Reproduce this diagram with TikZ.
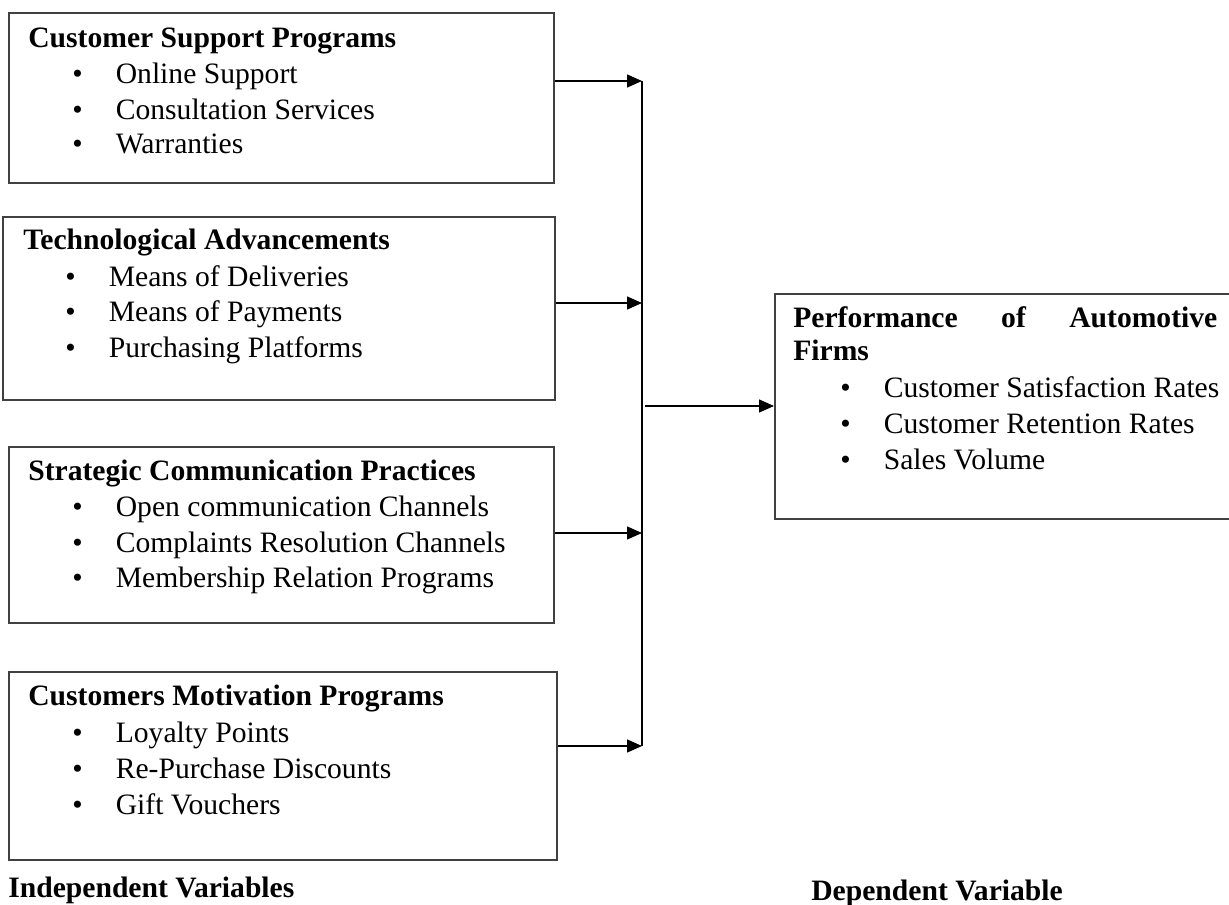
\documentclass[tikz,border=0pt]{standalone}
\usepackage{fontspec}
\setmainfont{Liberation Serif}
\usetikzlibrary{calc,arrows.meta}

\tikzset{
  varbox/.style={draw=black!75, line width=0.9pt, anchor=north west, inner sep=0pt},
  vartitle/.style={anchor=base west, inner sep=0pt, font={\fontsize{16.85}{20}\selectfont\bfseries}},
  varitem/.style={anchor=base west, inner sep=0pt},
  link/.style={line width=0.8pt, -{Triangle[length=0.3cm,width=0.26cm]}},
}
\newcommand{\varbullet}{\makebox[0.87cm][l]{\textbullet}}

\begin{document}
\begin{tikzpicture}[font=\fontsize{16.85}{20}\selectfont]
\useasboundingbox (0,0) rectangle (24.58,-18.1);

% independent variables
\node[varbox, minimum width=10.9cm, minimum height=3.4cm] (csp) at (0.16,-0.24) {};
\node[varbox, minimum width=11.04cm, minimum height=3.66cm] (tech) at (0.04,-4.32) {};
\node[varbox, minimum width=10.9cm, minimum height=3.52cm] (scp) at (0.16,-8.92) {};
\node[varbox, minimum width=10.96cm, minimum height=3.76cm] (cmp) at (0.16,-13.42) {};

\node[vartitle] (csp-t) at ($(csp.north west)+(0.4,-0.72)$) {Customer Support Programs};
\foreach \txt [count=\i] in {Online Support, Consultation Services, Warranties}
  \node[varitem] (csp-\i) at ($(csp-t.base west)+(0.88,{-0.02-0.7*\i})$) {\varbullet\txt};

\node[vartitle] (tech-t) at ($(tech.north west)+(0.42,-0.68)$) {Technological Advancements};
\foreach \txt [count=\i] in {Means of Deliveries, Means of Payments, Purchasing Platforms}
  \node[varitem] (tech-\i) at ($(tech-t.base west)+(0.84,{-0.04-0.7*\i})$) {\varbullet\txt};

\node[vartitle] (scp-t) at ($(scp.north west)+(0.4,-0.68)$) {Strategic Communication Practices};
\foreach \txt [count=\i] in {Open communication Channels, Complaints Resolution Channels, Membership Relation Programs}
  \node[varitem] (scp-\i) at ($(scp-t.base west)+(0.88,{-0.04-0.7*\i})$) {\varbullet\txt};

\node[vartitle] (cmp-t) at ($(cmp.north west)+(0.4,-0.68)$) {Customers Motivation Programs};
\foreach \txt [count=\i] in {Loyalty Points, Re-Purchase Discounts, Gift Vouchers}
  \node[varitem] (cmp-\i) at ($(cmp-t.base west)+(0.88,{-0.02-0.72*\i})$) {\varbullet\txt};

% dependent variable
\node[varbox, minimum width=9.4cm, minimum height=4.5cm] (perf) at (15.48,-5.86) {};
\node[vartitle] (perf-t) at ($(perf.north west)+(0.38,-0.68)$) {\makebox[8.48cm][s]{Performance\hfill of\hfill Automotive}};
\node[vartitle] (perf-t2) at ($(perf-t.base west)+(0,-0.66)$) {Firms};
\foreach \txt [count=\i] in {Customer Satisfaction Rates, Customer Retention Rates, Sales Volume}
  \node[varitem] (perf-\i) at ($(perf-t2.base west)+(0.94,{-0.02-0.72*\i})$) {\varbullet\txt};

% connectors
\coordinate (j1) at (12.84,-1.62);
\coordinate (j2) at (12.84,-6.06);
\coordinate (j3) at (12.84,-10.66);
\coordinate (j4) at (12.84,-14.92);
\coordinate (jout) at (12.9,-8.12);
\draw[line width=0.8pt] (j1) -- (j4);
\foreach \b/\j in {csp/j1, tech/j2, scp/j3, cmp/j4}
  \draw[link] (\b.east |- \j) -- (\j);
\draw[link] (jout) -- (perf.west |- jout);

% captions
\node[vartitle] (indep) at (0.16,-17.94) {Independent Variables};
\node[vartitle] (dep) at (16.22,-18.0) {Dependent Variable};
\end{tikzpicture}
\end{document}
